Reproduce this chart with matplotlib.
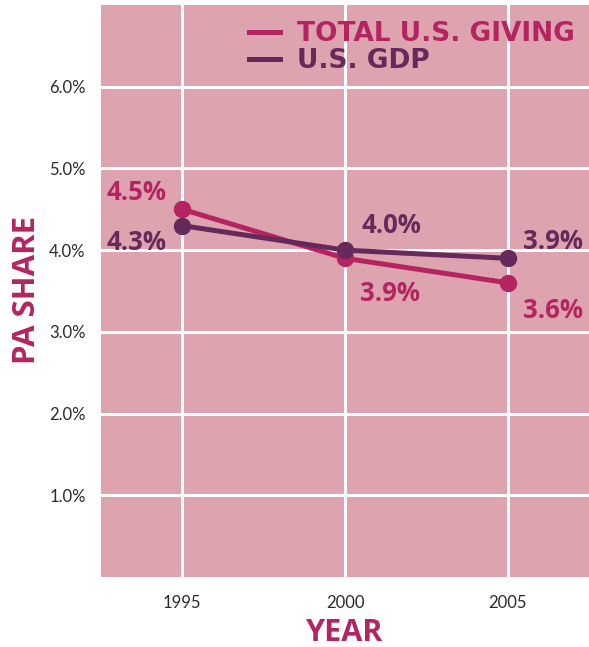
import matplotlib
matplotlib.use("Agg")
import matplotlib.pyplot as plt
from matplotlib.ticker import FixedLocator

years = [1995, 2000, 2005]
giving = [4.5, 3.9, 3.6]
gdp = [4.3, 4.0, 3.9]
yticks = [1, 2, 3, 4, 5, 6]
ytick_labels = ["1.0%", "2.0%", "3.0%", "4.0%", "5.0%", "6.0%"]
series_names = ["TOTAL U.S. GIVING", "U.S. GDP"]

C_GIVE = "#B42461"
C_GDP = "#65295A"
BG = "#DDA3AE"

plt.rcParams['font.family'] = ['Lato', 'DejaVu Sans']
BOLD = ['Open Sans', 'DejaVu Sans']

fig = plt.figure(figsize=(5.89, 6.47), dpi=100)
ax = fig.add_axes([101/589, 70/647, 488/589, 572/647])
ax.set_facecolor(BG)
ax.set_xlim(1992.5, 2007.5)
ax.set_ylim(0, 7)

ax.yaxis.set_major_locator(FixedLocator(yticks))
ax.set_yticklabels(ytick_labels)
ax.xaxis.set_major_locator(FixedLocator(years))
ax.set_xticklabels([str(y) for y in years])
ax.grid(True, color="white", linewidth=2.2)
ax.set_axisbelow(True)
for s in ax.spines.values():
    s.set_visible(False)
ax.tick_params(length=0, labelsize=12, colors="#2a2a2a")
ax.tick_params(axis='y', pad=11)
ax.tick_params(axis='x', pad=13)

l1, = ax.plot(years, giving, color=C_GIVE, lw=3.6, marker='o', ms=11.5, zorder=3, label=series_names[0])
l2, = ax.plot(years, gdp, color=C_GDP, lw=3.6, marker='o', ms=11.5, zorder=4, label=series_names[1])

give_off = [(-46, 17), (45, -35), (45, -28)]
gdp_off = [(-46, -17), (46, 25), (45, 17)]
for x, y, o in zip(years, giving, give_off):
    ax.annotate(f"{y:.1f}%", (x, y), xytext=o, textcoords='offset pixels',
                ha='center', va='center', fontsize=18.5, fontweight='bold',
                family=BOLD, color=C_GIVE, zorder=5)
for x, y, o in zip(years, gdp, gdp_off):
    ax.annotate(f"{y:.1f}%", (x, y), xytext=o, textcoords='offset pixels',
                ha='center', va='center', fontsize=18.5, fontweight='bold',
                family=BOLD, color=C_GDP, zorder=5)

leg = ax.legend(handles=[
    plt.Line2D([], [], color=C_GIVE, lw=3.6),
    plt.Line2D([], [], color=C_GDP, lw=3.6)], labels=series_names,
    loc='upper right', bbox_to_anchor=(1 + 2/488, 1.0), frameon=False,
    prop={'weight': 'bold', 'size': 19, 'family': ['DejaVu Sans']},
    handlelength=1.2, handletextpad=0.64, labelspacing=0.05, borderaxespad=0.2)
for t, c in zip(leg.get_texts(), [C_GIVE, C_GDP]):
    t.set_color(c)

ax.set_ylabel("PA SHARE", fontsize=22.5, fontweight='bold', family=BOLD, color=C_GIVE)
ax.yaxis.set_label_coords(-74/488, (577-290)/572)
ax.set_xlabel("YEAR", fontsize=22, fontweight='bold', family=BOLD, color=C_GIVE)
ax.xaxis.set_label_coords(0.5, -(633-577)/572)
ax.xaxis.label.set_va('center')
ax.yaxis.label.set_va('center')

fig.savefig("out.png", dpi=100, facecolor="white")
